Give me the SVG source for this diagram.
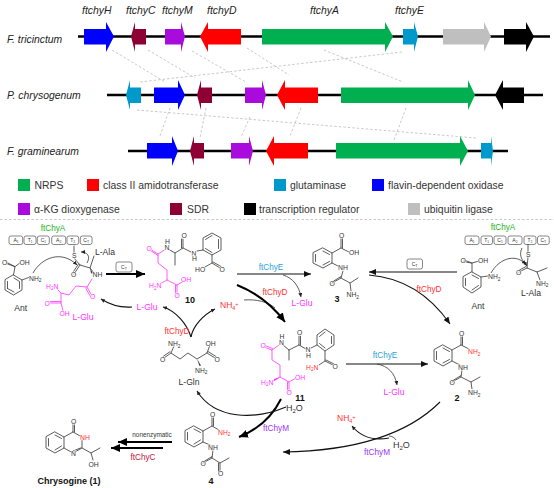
<svg xmlns="http://www.w3.org/2000/svg" width="554" height="488" viewBox="0 0 554 488">
<style>
text{font-family:"Liberation Sans",Arial,sans-serif}
.sp,.gn{font-style:italic;font-size:10.4px;fill:#222}
.lg{font-size:10.4px;fill:#333}
.track{stroke:#000;stroke-width:2.4;fill:none}
.dash{stroke:#bbb;stroke-width:.8;stroke-dasharray:2.5 2;fill:none}
.b{stroke:#333;stroke-width:.8;fill:none;stroke-linecap:round}
.m{stroke:#ff33ff;stroke-width:.8;fill:none;stroke-linecap:round}
.a{font-size:6.8px;fill:#333;paint-order:stroke;stroke:#fff;stroke-width:1.2}
.am{font-size:6.8px;fill:#ff33ff;paint-order:stroke;stroke:#fff;stroke-width:1.2}
.ar{font-size:6.8px;fill:#ff3333;paint-order:stroke;stroke:#fff;stroke-width:1.2}
.n{font-size:9px;font-weight:bold;fill:#111;text-anchor:middle}
.e{font-size:8.2px;text-anchor:middle}
.lb{font-size:8.6px;fill:#333;text-anchor:middle}
.lm{font-size:8.6px;fill:#ff33ff;text-anchor:middle}
.dm{fill:#fff;stroke:#555;stroke-width:.7}
.dt{font-size:5px;fill:#333;text-anchor:middle}
.c{fill:none;stroke:#333;stroke-width:.8}
.c1{fill:none;stroke:#111;stroke-width:1.1}
.c2{fill:none;stroke:#000;stroke-width:2}
</style>
<defs>
<marker id="h" markerUnits="userSpaceOnUse" markerWidth="9" markerHeight="8" refX="7" refY="3" orient="auto"><path d="M0 0L7 3L0 6Z" fill="#111"/></marker>
<marker id="ht" markerUnits="userSpaceOnUse" markerWidth="12" markerHeight="10" refX="9" refY="4" orient="auto"><path d="M0 0L9 4L0 8Z" fill="#000"/></marker>
<marker id="hs" markerUnits="userSpaceOnUse" markerWidth="6" markerHeight="6" refX="4" refY="2" orient="auto"><path d="M0 0L4 2L0 4Z" fill="#222"/></marker>
</defs>
<rect width="554" height="488" fill="#fff"/>

<g id="tracks">
<path class="track" d="M78 36.500H550M107 95H543M128 151H508"/>
</g>
<g id="dashes">
<path class="dash" d="M112 50L165 82M148 50L195 78M192 51L246 82M247 48L289 75M324 50L403 82M402 52L140 82M137 110L476 138M170 108L160 136M206 108L200 138M250 117L241 137M301 108L290 136M406 108L394 140"/>
</g>
<g id="species">
<text class="sp" x="7" y="43">F. tricinctum</text>
<text class="sp" x="7" y="99">P. chrysogenum</text>
<text class="sp" x="7" y="155">F. graminearum</text>
</g>
<g id="gene-labels">
<text class="gn" x="82" y="14">ftchyH</text>
<text class="gn" x="126" y="14">ftchyC</text>
<text class="gn" x="162" y="14">ftchyM</text>
<text class="gn" x="207" y="14">ftchyD</text>
<text class="gn" x="310" y="14">ftchyA</text>
<text class="gn" x="395" y="14">ftchyE</text>
</g>
<g id="genes-tricinctum">
<path id="t-H" fill="#0000ff" d="M84 29H106V22L114 36.500L106 52V44.500H84Z"/>
<path id="t-C" fill="#8e0034" d="M131 36.500L135 22V29H146V44.500H135V52Z"/>
<path id="t-M" fill="#a80bdc" d="M165 29H181V22L185 36.500L181 52V44.500H165Z"/>
<path id="t-D" fill="#ff0000" d="M200 36.500L208 22V29H241V44.500H208V52Z"/>
<path id="t-A" fill="#00b050" d="M262 29H385V22L393 36.500L385 52V44.500H262Z"/>
<path id="t-E" fill="#0099cc" d="M403 29H414V22L418 36.500L414 52V44.500H403Z"/>
<path id="t-U" fill="#bfbfbf" d="M443 29H484V22L491 36.500L484 52V44.500H443Z"/>
<path id="t-R" fill="#000" d="M504 29H526V22L534 36.500L526 52V44.500H504Z"/>
</g>
<g id="genes-chrysogenum">
<path id="p-E" fill="#0099cc" d="M126 95L130 80V87.500H141V103H130V110Z"/>
<path id="p-H" fill="#0000ff" d="M154 87.500H178V80L185 95L178 110V103H154Z"/>
<path id="p-C" fill="#8e0034" d="M197 95L201 80V87.500H212V103H201V110Z"/>
<path id="p-M" fill="#a80bdc" d="M245 87.500H262V80L266 95L262 110V103H245Z"/>
<path id="p-D" fill="#ff0000" d="M277 95L285 80V87.500H318V103H285V110Z"/>
<path id="p-A" fill="#00b050" d="M341 87.500H468V80L475 95L468 110V103H341Z"/>
<path id="p-R" fill="#000" d="M495 95L503 80V87.500H524V103H503V110Z"/>
</g>
<g id="genes-graminearum">
<path id="g-H" fill="#0000ff" d="M147 143H172V136L178 151L172 166V158.500H147Z"/>
<path id="g-C" fill="#8e0034" d="M190 151L194 136V143H204V158.500H194V166Z"/>
<path id="g-M" fill="#a80bdc" d="M231 143H249V136L253 151L249 166V158.500H231Z"/>
<path id="g-D" fill="#ff0000" d="M266 151L274 136V143H308V158.500H274V166Z"/>
<path id="g-A" fill="#00b050" d="M336 143H460V136L468 151L460 166V158.500H336Z"/>
<path id="g-E" fill="#0099cc" d="M481 143H491V136L493 151L491 166V158.500H481Z"/>
</g>
<g id="legend">
<rect x="18" y="179" width="12" height="12" fill="#00b050"/><text class="lg" x="34.500" y="189">NRPS</text>
<rect x="87" y="179" width="12" height="12" fill="#ff0000"/><text class="lg" x="103" y="189">class II amidotransferase</text>
<rect x="274" y="179" width="12" height="12" fill="#0099cc"/><text class="lg" x="290" y="189">glutaminase</text>
<rect x="372" y="179" width="12" height="12" fill="#0000ff"/><text class="lg" x="388" y="189">flavin-dependent oxidase</text>
<rect x="18" y="203" width="12" height="12" fill="#a80bdc"/><text class="lg" x="34" y="213">α-KG dioxygenase</text>
<rect x="170" y="203" width="12" height="12" fill="#8e0034"/><text class="lg" x="187" y="213">SDR</text>
<rect x="244" y="203" width="12" height="12" fill="#000"/><text class="lg" x="259" y="213">transcription regulator</text>
<rect x="408" y="203" width="12" height="12" fill="#bfbfbf"/><text class="lg" x="424" y="213">ubiquitin ligase</text>
</g>
<path id="separator" d="M0 219.500H554" stroke="#bbb" stroke-width=".8" stroke-dasharray="2.500 2" fill="none"/>

<g id="connectors">
<path class="c" marker-end="url(#hs)" d="M33 273C42 257 62 250 77 265"/>
<path class="c" marker-end="url(#hs)" d="M87 263C91 256 87 252 81 252"/>
<path class="c" marker-end="url(#hs)" d="M491 273C500 257 518 253 527 266"/>
<path class="c" marker-end="url(#hs)" d="M522 248C519 254 521 260 526 264"/>
<path class="c2" marker-end="url(#ht)" d="M106 274H145"/>
<path class="c1" marker-end="url(#hs)" d="M132 307C120 308 109 304 101 299"/>
<path class="c1" marker-end="url(#hs)" d="M191 337C187 324 176 311 163 307"/>
<path class="c1" marker-end="url(#hs)" d="M191 337C193 326 203 315 215 309"/>
<path class="c" d="M244 300C257 299 268 302 275 308"/>
<path class="c1" marker-end="url(#h)" d="M237 274H311"/>
<path class="c" marker-end="url(#hs)" d="M283 275C293 278 299 286 301 297"/>
<path class="c2" marker-end="url(#ht)" d="M237 285C257 293 273 306 285 322"/>
<path class="c1" marker-end="url(#h)" d="M457 272H369"/>
<path class="c1" marker-end="url(#h)" d="M369 275C406 278 432 298 450 324"/>
<path class="c1" marker-end="url(#h)" d="M346 364H428"/>
<path class="c" marker-end="url(#hs)" d="M377 364C388 366 395 373 397 385"/>
<path class="c1" marker-end="url(#h)" d="M440 402C405 437 350 451 283 452"/>
<path class="c" d="M389 436C392 436 395 438 396 440"/>
<path class="c1" marker-end="url(#hs)" d="M389 438C372 441 360 436 352 426"/>
<path class="c2" marker-end="url(#ht)" d="M281 399C272 417 257 430 239 437"/>
<path class="c1" marker-end="url(#hs)" d="M286 407C255 420 215 420 197 391"/>
<path class="c2" marker-end="url(#ht)" d="M172 442H118"/>
<path class="c2" marker-end="url(#ht)" d="M163 448H111"/>
</g>

<g id="module-left">
<text class="e" x="53" y="231" fill="#22b422">ftChyA</text>
<rect class="dm" x="9" y="236" width="13.700" height="8.500" rx="2"/><text class="dt" x="16" y="242">A₁</text>
<rect class="dm" x="24" y="236" width="12" height="8.500" rx="2"/><text class="dt" x="30" y="242">T₁</text>
<rect class="dm" x="37.300" y="236" width="12" height="8.500" rx="2"/><text class="dt" x="43.300" y="242">C₁</text>
<rect class="dm" x="51.700" y="236" width="14" height="8.500" rx="2"/><text class="dt" x="58.700" y="242">A₂</text>
<rect class="dm" x="67" y="236" width="11.700" height="8.500" rx="2"/><text class="dt" x="72.800" y="242">T₂</text>
<rect class="dm" x="80.300" y="236" width="11.700" height="8.500" rx="2"/><text class="dt" x="86.200" y="242">C<tspan font-size="3.500" dy="1">T</tspan></text>
</g>
<g id="ct-left"><rect class="dm" x="116" y="262" width="16" height="10" rx="2"/><text class="dt" x="124" y="269">C<tspan font-size="3.800" dy="1">T</tspan></text></g>
<g id="module-right">
<text class="e" x="503" y="230" fill="#22b422">ftChyA</text>
<rect class="dm" x="465" y="236" width="14" height="8.500" rx="2"/><text class="dt" x="472" y="242">A₁</text>
<rect class="dm" x="481" y="236" width="11.500" height="8.500" rx="2"/><text class="dt" x="486.700" y="242">T₁</text>
<rect class="dm" x="494" y="236" width="12" height="8.500" rx="2"/><text class="dt" x="500" y="242">C₁</text>
<rect class="dm" x="508" y="236" width="14" height="8.500" rx="2"/><text class="dt" x="515" y="242">A₂</text>
<rect class="dm" x="524" y="236" width="12" height="8.500" rx="2"/><text class="dt" x="530" y="242">T₂</text>
<rect class="dm" x="537.500" y="236" width="11.700" height="8.500" rx="2"/><text class="dt" x="543.300" y="242">C<tspan font-size="3.500" dy="1">T</tspan></text>
</g>
<g id="ct-right"><rect class="dm" x="407" y="259" width="15.500" height="10" rx="2"/><text class="dt" x="414.700" y="266">C<tspan font-size="3.800" dy="1">T</tspan></text></g>

<g id="ant-left">
<path class="b" d="M13.500 275L22 280V290L13.500 295L5 290V280ZM14 278L19.500 281.500V288.500M14 292L7.500 288.500M7.500 281.500V288.500M13.500 275L15 266.700L6 262M14 266.300L6.500 263.500M15 266.700L21 262M22 280L30 277"/>
<text class="a" x="2" y="264.500">O</text><text class="a" x="19.500" y="264.500">OH</text><text class="a" x="29" y="280.500">NH<tspan font-size="4.800" dy="1.500">2</tspan></text>
<text class="lb" x="20.700" y="310.500">Ant</text>
</g>
<g id="acyl-left">
<path class="b" d="M74 246V253M74 258L80 265L90 268L94 256M80 265L74 274M78.500 264L72.500 273M90 268L95 274"/>
<path d="M90 268L91 273.500L93 273Z" fill="#444"/>
<text class="a" x="72" y="258">S</text><text class="a" x="71" y="277">O</text><text class="a" x="92.500" y="277">NH</text>
<text class="lb" x="105" y="254.500">L-Ala</text>
<path class="m" d="M92 279L87 287L76 286L69 295L61 293L61 303L63 311M87 287L92 296M85.700 288L90.500 296.700M61 303L50 303M61 301.500L50 301.500M61 293L56 288"/>
<text class="am" x="46" y="288.500">H<tspan font-size="4.800" dy="1.500">2</tspan><tspan dy="-1.500">N</tspan></text>
<text class="am" x="90" y="298.500">O</text><text class="am" x="44.500" y="305.500">O</text><text class="am" x="59.500" y="315.500">OH</text>
<text class="lm" x="83" y="320">L-Glu</text>
</g>
<g id="compound-10">
<path class="m" d="M150 249L158 254L166 249M150.500 250.500L158 255.500M158 254V263L167 270V280L177 285V295M175.500 285V295M177 285L184 281M167 280L160 284"/>
<path class="b" d="M168 249L175 253L183 248V239M181.500 248V239M175 253V265M183 248L191 252M197 251L203 250V238L212 233L221 238V250L212 255L203 250M205.500 248.500L212 252.500M218.500 248.500V239.500M205.500 239.500L212 235.500M212 255V263L220 268M213 262L221 266.500M212 263L205 267"/>
<text class="a" x="164.500" y="249.500">N</text><text class="a" x="165" y="244">H</text>
<text class="am" x="146.500" y="251">O</text><text class="am" x="149" y="288">H<tspan font-size="4.800" dy="1.500">2</tspan><tspan dy="-1.500">N</tspan></text>
<text class="am" x="174.500" y="298">O</text><text class="am" x="181" y="282">OH</text>
<text class="a" x="181.500" y="238">O</text><text class="a" x="191.500" y="255.500">N</text><text class="a" x="192" y="261">H</text>
<text class="a" x="219.500" y="271.500">O</text><text class="a" x="195" y="271.500">HO</text>
<text class="n" x="190" y="303">10</text>
</g>
<g id="compound-3">
<path class="b" d="M323 248L332 253V263L323 268L313 263V253ZM323 251L329.500 254.500M329.500 261.500L323 265M315.500 254.500V261.500M332 253L341 248V238M342.500 248V238M341 248L349 252M332 263L340 267M343 271L341 278L332 283M341 276.500L333 281.500M341 278L350 283L358 278M350 283L351 291"/>
<text class="a" x="339" y="237.500">O</text><text class="a" x="349" y="254.500">OH</text><text class="a" x="338" y="270">NH</text><text class="a" x="329.500" y="285.500">O</text>
<text class="a" x="346.500" y="297">NH<tspan font-size="4.800" dy="1.500">2</tspan></text>
<text class="n" x="337" y="302">3</text>
</g>
<g id="ant-right">
<path class="b" d="M472 272L481 277V287L472 293L463 287V277ZM472 275L478.500 278.500M478.500 285.500L472 290M465.500 278.500V285.500M472 272V263L464 260M471 263L464 261.500M472 263L479 261M481 277L488 276"/>
<text class="a" x="460.500" y="262.500">O</text><text class="a" x="478" y="263">OH</text><text class="a" x="488" y="279">NH<tspan font-size="4.800" dy="1.500">2</tspan></text>
<text class="lb" x="478" y="309">Ant</text>
</g>
<g id="acyl-right">
<path class="b" d="M528 244.500V252M528 257L527 268L537 272L547 268M527 268L519 272M526 266.500L518.500 270.500M537 272L540 280"/>
<text class="a" x="526" y="256.500">S</text><text class="a" x="516" y="274.500">O</text><text class="a" x="536" y="285.500">NH<tspan font-size="4.800" dy="1.500">2</tspan></text>
<text class="lb" x="531" y="296">L-Ala</text>
</g>
<g id="compound-gln">
<path class="b" d="M174 346L171 353L180 359L188 353L197 359L207 353L210 345M171 353L164 358M170 351.700L163 356.500M207 353L215 358M208 351.500L216 356.500"/>
<path d="M197 359L199.500 366L201 365.500Z" fill="#333"/>
<text class="a" x="168" y="346">NH<tspan font-size="4.800" dy="1.500">2</tspan></text><text class="a" x="160" y="361.500">O</text>
<text class="a" x="205.500" y="345.500">OH</text><text class="a" x="214.500" y="361.500">O</text><text class="a" x="195" y="372.500">NH<tspan font-size="4.800" dy="1.500">2</tspan></text>
<text class="lb" x="189" y="385">L-Gln</text>
</g>
<g id="compound-11">
<path class="m" d="M264 347L272 350V360L280 365V377L289 382V392M287.500 382V392M289 382L296 378M280 377L273 381M265 345.500L272.500 348.500M272 350L279 345"/>
<path d="M280 377L274 379L274.500 381Z" fill="#ff33ff"/>
<path class="b" d="M283 345L289 350V360M289 350L299 345V336M300.500 345V336M299 345L306 349M311 348L317 345V335L325 329L334 335V345L325 351L317 345M319.500 343.500L325 348M331.500 343.500V336.500M319.500 336.500L325 332M325 351V361L333 365M326 360L334 364M325 361L319 365"/>
<text class="a" x="279" y="344.500">N</text><text class="a" x="279.500" y="339">H</text>
<text class="am" x="260.500" y="348">O</text><text class="am" x="261" y="384.500">H<tspan font-size="4.800" dy="1.500">2</tspan><tspan dy="-1.500">N</tspan></text>
<text class="am" x="286.500" y="395">O</text><text class="am" x="295" y="379.500">OH</text>
<text class="a" x="297" y="335">O</text><text class="a" x="305.500" y="352">N</text><text class="a" x="306" y="357.500">H</text>
<text class="a" x="332.500" y="368.500">O</text>
<text class="ar" x="306" y="369.500">H<tspan font-size="4.800" dy="1.500">2</tspan><tspan dy="-1.500">N</tspan></text>
<text class="n" x="300" y="401">11</text>
</g>
<g id="compound-2">
<path class="b" d="M443 345L452 350V361L443 366L434 361V350ZM443 348L449.500 351.500M449.500 359.500L443 363M436.500 351.500V359.500M452 350L461 345V336M462.500 345V336M461 345L469 349M452 361L460 365M462 370L461 377L452 382M461 375.500L453 380.500M461 377L471 382L480 377M471 382L472 389"/>
<text class="a" x="459" y="335.500">O</text><text class="ar" x="468" y="354">NH<tspan font-size="4.800" dy="1.500">2</tspan></text>
<text class="a" x="458" y="369.500">NH</text><text class="a" x="449.500" y="384.500">O</text>
<text class="a" x="468" y="395">NH<tspan font-size="4.800" dy="1.500">2</tspan></text>
<text class="n" x="457" y="401">2</text>
</g>
<g id="compound-4">
<path class="b" d="M194 426L203 431V442L194 447L185 442V431ZM194 429L200.500 432.500M200.500 440L194 444M187.500 432.500V440M203 431L212 426V417M213.500 426V417M212 426L219 430M203 442L210 445M213 450L212 458L203 463M212 456.500L204 461.500M212 458L220 463L229 458M220 463V472M218.500 463V472"/>
<text class="a" x="210" y="416.500">O</text><text class="ar" x="218" y="434.500">NH<tspan font-size="4.800" dy="1.500">2</tspan></text>
<text class="a" x="208" y="449.500">NH</text><text class="a" x="200.500" y="465.500">O</text><text class="a" x="218" y="476">O</text>
<text class="n" x="211" y="484">4</text>
</g>
<g id="chrysogine">
<path class="b" d="M55 432L64 437V448L55 453L46 448V437ZM55 435L61.500 438.500M61.500 446L55 450M48.500 438.500V446M64 437L73 432V423M74.500 432V423M73 432L82 437M82 440V448L73 453L64 448M80.500 448L73 451M82 448L91 453L100 448M91 453L93 460"/>
<text class="a" x="71" y="423.500">O</text><text class="ar" x="80" y="440">NH</text><text class="a" x="71" y="455.500">N</text><text class="a" x="88.500" y="466.500">OH</text>
<text x="69" y="484" font-size="9" font-weight="bold" fill="#111" text-anchor="middle">Chrysogine (1)</text>
</g>
<g id="labels">
<text class="e" x="271" y="270" fill="#2e9fd8">ftChyE</text>
<text class="e" x="275" y="295" fill="#ff3333">ftChyD</text>
<text class="e" x="177" y="334" fill="#ff3333">ftChyD</text>
<text class="e" x="429" y="292" fill="#ff3333">ftChyD</text>
<text class="e" x="385" y="358" fill="#2e9fd8">ftChyE</text>
<text class="e" x="276" y="431" fill="#9933ff">ftChyM</text>
<text class="e" x="377" y="455" fill="#9933ff">ftChyM</text>
<text class="e" x="143" y="460" fill="#c0143c">ftChyC</text>
<text x="152" y="436.500" font-size="6.400" fill="#333" text-anchor="middle">nonenzymatic</text>
<text class="lm" x="147" y="310">L-Glu</text>
<text class="lm" x="302" y="306">L-Glu</text>
<text class="lm" x="394" y="395">L-Glu</text>
<text x="220" y="308" font-size="8.500" fill="#ff3333">NH<tspan font-size="5.500" dy="1.500">4</tspan><tspan font-size="5.500" dy="-4">+</tspan></text>
<text x="337" y="421" font-size="8.500" fill="#ff3333">NH<tspan font-size="5.500" dy="1.500">4</tspan><tspan font-size="5.500" dy="-4">+</tspan></text>
<text x="286" y="411" font-size="9" fill="#333">H<tspan font-size="6" dy="1.500">2</tspan><tspan dy="-1.500">O</tspan></text>
<text x="393" y="448" font-size="9" fill="#333">H<tspan font-size="6" dy="1.500">2</tspan><tspan dy="-1.500">O</tspan></text>
</g>
</svg>
